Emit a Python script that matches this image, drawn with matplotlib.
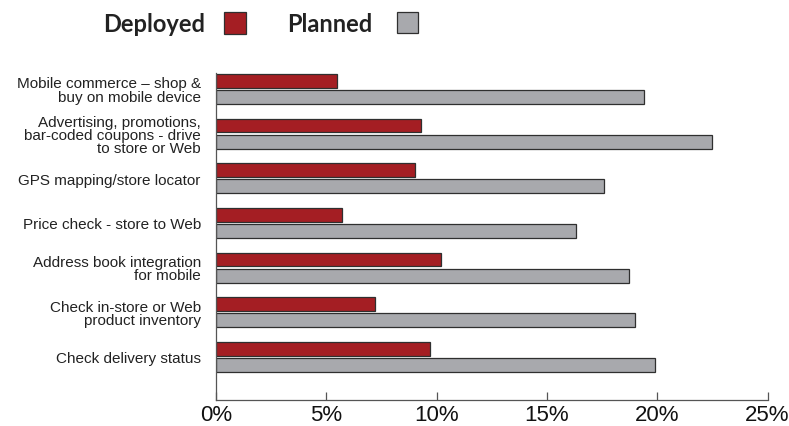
import numpy as np
import matplotlib.pyplot as plt
from matplotlib.patches import Rectangle

# survey data: share of retailers per mobile feature
categories = [
    "Mobile commerce \u2013 shop &\nbuy on mobile device",
    "Advertising, promotions,\nbar-coded coupons - drive\nto store or Web",
    "GPS mapping/store locator",
    "Price check - store to Web",
    "Address book integration\nfor mobile",
    "Check in-store or Web\nproduct inventory",
    "Check delivery status",
]
deployed = [5.5, 9.3, 9.0, 5.7, 10.2, 7.2, 9.7]
planned = [19.4, 22.5, 17.6, 16.3, 18.7, 19.0, 19.9]
x_ticks = [0, 5, 10, 15, 20, 25]

RED = "#A41E23"
GRAY = "#A8A9AD"
EDGE = "#2f2f2f"

fig = plt.figure(figsize=(7.89, 4.27), dpi=100)
ax = fig.add_axes([0.2738, 0.0609, 0.699, 0.766])

y = np.arange(len(categories))
h = 0.31
off = 0.18
ax.barh(y - off, deployed, height=h, color=RED, edgecolor=EDGE, linewidth=0.9)
ax.barh(y + off, planned, height=h, color=GRAY, edgecolor=EDGE, linewidth=0.9)

ax.set_xlim(0, 25)
ax.set_ylim(6.965, -0.358)

ax.set_yticks(y)
ax.set_yticklabels(categories, fontsize=11, family=["Liberation Sans", "DejaVu Sans"],
                   linespacing=0.92, color="#222222")
ax.tick_params(axis="y", length=0, pad=11)

ax.set_xticks(x_ticks)
ax.set_xticklabels([f"{t}%" for t in x_ticks], fontsize=16,
                   family=["Liberation Sans", "DejaVu Sans"], color="#111111")
ax.tick_params(axis="x", direction="in", length=6, width=0.9, color="#555555", pad=3)

for s in ["top", "right"]:
    ax.spines[s].set_visible(False)
for s in ["left", "bottom"]:
    ax.spines[s].set_color("#555555")
    ax.spines[s].set_linewidth(0.9)

# legend along the top
W, H = 789, 427
leg_font = dict(fontsize=17, fontweight="bold", family=["Lato", "DejaVu Sans"], color="#222222")
fig.text(103 / W, 1 - 25 / H, "Deployed", va="center", ha="left", **leg_font)
fig.text(287 / W, 1 - 25 / H, "Planned", va="center", ha="left", **leg_font)
fig.add_artist(Rectangle((224 / W, 1 - 35 / H), 22 / W, 22 / H, transform=fig.transFigure,
                         facecolor=RED, edgecolor=EDGE, linewidth=0.9))
fig.add_artist(Rectangle((397 / W, 1 - 34 / H), 21 / W, 21 / H, transform=fig.transFigure,
                         facecolor=GRAY, edgecolor=EDGE, linewidth=0.9))

fig.savefig("out.png", dpi=100)
